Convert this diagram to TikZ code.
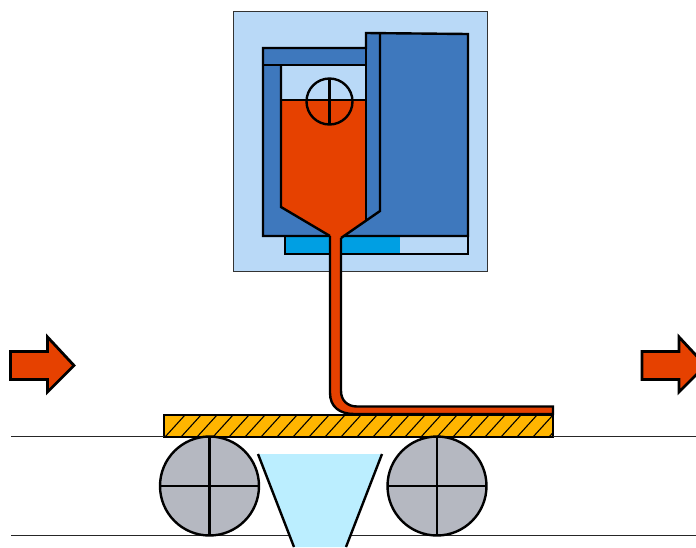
\documentclass[tikz,border=0pt]{standalone}
\definecolor{paleblue}{HTML}{B9D9F7}
\definecolor{bodyblue}{HTML}{3E78BD}
\definecolor{melt}{HTML}{E64100}
\definecolor{strip}{HTML}{009FE3}
\definecolor{plate}{HTML}{FFB500}
\definecolor{roller}{HTML}{B5B8C1}
\definecolor{trough}{HTML}{BBEEFF}
\tikzset{
  outline/.style={draw=black,line width=2.4pt,line join=miter},
  thin line/.style={draw=black!85,line width=1pt},
  flowarrow/.style={outline,fill=melt,line width=2.8pt},
}
\begin{document}
\begin{tikzpicture}[x=1pt,y=-1pt]
\useasboundingbox (0,0) rectangle (696,547);
\clip (0,0) rectangle (696,547);
% housing
\path[fill=paleblue,draw=black!80,line width=1pt] (233.5,11.5) rectangle (487.5,271.5);
% strip below the body
\path[fill=paleblue,outline] (285,236) rectangle (468,254);
\fill[strip] (286,237) rectangle (400,253);
\draw[outline] (285,236) -- (285,254) -- (468,254) -- (468,236);
% body
\path[fill=bodyblue,outline] (263,48) -- (366,48) -- (366,33) -- (468,34) -- (468,236) -- (263,236) -- cycle;
% chamber
\path[fill=paleblue] (281,65) rectangle (366,100);
\path[fill=melt] (281,100) -- (366,100) -- (366,220) -- (340,238) -- (341,250) -- (329,250) -- (329,236) -- (281,207) -- cycle;
\draw[outline] (263,65) -- (366,65);
\draw[outline] (281,65) -- (281,207) -- (330,236);
\draw[outline] (281,100) -- (366,100);
\draw[outline] (366,33) -- (366,220);
\draw[outline] (380,33) -- (380,211) -- (341,238);
% float
\coordinate (fc) at (329.5,101.5);
\draw[outline] (fc) circle[radius=23];
\draw[outline] (329.5,78.5) -- (329.5,124.5);
% plate
\path[fill=plate] (164,415) rectangle (553,437);
\begin{scope}
\clip (164,415) rectangle (553,437);
\foreach \i in {0,...,25}
  \draw[black,line width=1.1pt] ({165+16*\i},437) -- ({185+16*\i},415);
\end{scope}
\draw[outline] (164,415) rectangle (553,437);
% molten stream
\path[fill=melt,outline] (330,236) -- (330,393) .. controls (330,407) and (340,414) .. (354,414) -- (553,414) -- (553,406.5) -- (357,406.5) .. controls (347,406.5) and (341,400) .. (341,391) -- (341,238);
\draw[outline] (164,415) -- (553,415);
% web lines
\draw[thin line] (11,436.5) -- (164,436.5);
\draw[thin line] (553,436.5) -- (696,436.5);
\draw[thin line] (11,535) -- (696,535);
% rollers
\foreach \cx in {209.5,437}{
  \path[fill=roller,outline] (\cx,486) circle[radius=49.5];
  \draw[outline] (\cx,436.5) -- (\cx,535.5);
  \draw[outline] (\cx-49.5,486) -- (\cx+49.5,486);
}
% trough
\fill[trough] (258,454) -- (382,454) -- (346,547) -- (294,547) -- cycle;
\draw[outline] (258,454) -- (294,547);
\draw[outline] (382,454) -- (346,547);
% arrows
\foreach \dx in {0,631.5}{
  \path[flowarrow,shift={(\dx,0)}] (10.5,351.5) -- (47.5,351.5) -- (47.5,337) -- (74,365.5) -- (47.5,392) -- (47.5,379.5) -- (10.5,379.5) -- cycle;
}
\end{tikzpicture}
\end{document}
